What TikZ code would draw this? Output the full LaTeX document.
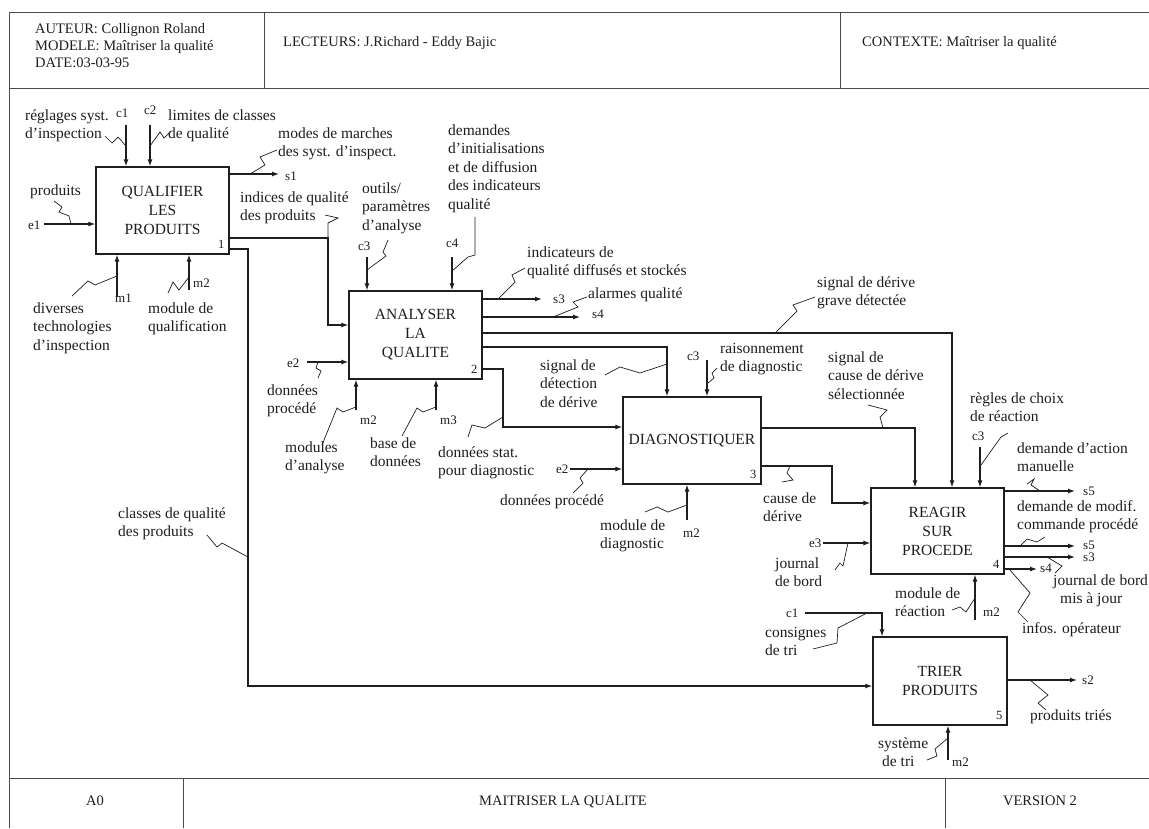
\documentclass[tikz,border=0pt]{standalone}
\usepackage{fontspec}
\setmainfont{Liberation Serif}
\usetikzlibrary{arrows.meta}
\definecolor{ink}{RGB}{30,30,30}
\begin{document}
\begin{tikzpicture}[x=1pt,y=-1pt,
  frm/.style={draw=ink!80, line width=0.9pt},
  ln/.style={draw=ink, line width=1.2pt},
  arr/.style={ln, -{Latex[length=7pt,width=5pt]}},
  sq/.style={draw=ink, line width=0.7pt},
  lbl/.style={font=\fontsize{15.5}{18.5}\selectfont, anchor=base west, align=left, inner sep=0pt, text=ink},
  two/.style={yshift=-18.5pt},
  three/.style={yshift=-37pt},
  five/.style={yshift=-74pt},
  hdr/.style={font=\fontsize{14.5}{17}\selectfont, anchor=base west, align=left, inner sep=0pt, text=ink},
  ftr/.style={font=\fontsize{14.5}{17}\selectfont, anchor=base, inner sep=0pt, text=ink},
  tag/.style={font=\fontsize{13}{15}\selectfont, anchor=base west, inner sep=0pt, text=ink},
  num/.style={font=\fontsize{12.5}{14}\selectfont, anchor=base east, inner sep=0pt, text=ink},
  box/.style={draw=ink, line width=1.2pt, fill=white, align=center, inner sep=0pt,
    font=\fontsize{15.5}{19}\selectfont, text=ink}]
\useasboundingbox (0,0) rectangle (1149,828);
\fill[white] (0,0) rectangle (1149,828);
% frame
\draw[frm] (9,12) -- (1149,12);
\draw[frm] (9,88) -- (1149,88);
\draw[frm] (9,12) -- (9,828);
\draw[frm] (264,12) -- (264,88);
\draw[frm] (840,12) -- (840,88);
\draw[frm] (9,778) -- (1149,778);
\draw[frm] (183,778) -- (183,828);
\draw[frm] (945,778) -- (945,828);
\node[hdr, yshift=-34pt] (hauteur) at (35,33) {AUTEUR: Collignon Roland\\MODELE: Maîtriser la qualité\\DATE:03-03-95};
\node[hdr] (hlect) at (283,46) {LECTEURS: J.Richard - Eddy Bajic};
\node[hdr] (hctx) at (862,46) {CONTEXTE: Maîtriser la qualité};
\node[ftr] (fa0) at (95,805) {A0};
\node[ftr] (ftit) at (563,805) {MAITRISER LA QUALITE};
\node[ftr] (fver) at (1040,805) {VERSION 2};
% boxes
\node[box, minimum width=133pt, minimum height=87pt] (b1) at (162.5,210.5) {QUALIFIER\\LES\\PRODUITS};
\node[box, minimum width=133pt, minimum height=88pt] (b2) at (415.5,335) {ANALYSER\\LA\\QUALITE};
\node[box, minimum width=138pt, minimum height=87pt] (b3) at (692,440.5) {DIAGNOSTIQUER};
\node[box, minimum width=133pt, minimum height=86pt] (b4) at (937.5,531) {REAGIR\\SUR\\PROCEDE};
\node[box, minimum width=134pt, minimum height=88pt] (b5) at (940,681) {TRIER\\PRODUITS};
\node[num] (n1) at ([xshift=-5pt,yshift=6pt]b1.south east) {1};
\node[num] (n2) at ([xshift=-5pt,yshift=6pt]b2.south east) {2};
\node[num] (n3) at ([xshift=-5pt,yshift=6pt]b3.south east) {3};
\node[num] (n4) at ([xshift=-5pt,yshift=6pt]b4.south east) {4};
\node[num] (n5) at ([xshift=-5pt,yshift=6pt]b5.south east) {5};
% ---- box 1 arrows
\coordinate (e1s) at (44,224);
\draw[arr] (e1s) -- (e1s -| b1.west);
\coordinate (c1s) at (126,125);
\draw[arr] (c1s) -- (c1s |- b1.north);
\coordinate (c2s) at (150,125);
\draw[arr] (c2s) -- (c2s |- b1.north);
\coordinate (s1e) at (279,174);
\draw[arr] (b1.east |- s1e) -- (s1e);
\coordinate (m1s) at (117,297);
\draw[arr] (m1s) -- (m1s |- b1.south);
\coordinate (m2s) at (189,290);
\draw[arr] (m2s) -- (m2s |- b1.south);
\draw[arr] (b1.east |- 0,238) -- (328,238) -- (328,325) -- (b2.west |- 0,325);
\draw[arr] (b1.east |- 0,249) -- (248,249) -- (248,686) -- (b5.west |- 0,686);
% ---- box 2 arrows
\coordinate (c3a) at (367,257);
\draw[arr] (c3a) -- (c3a |- b2.north);
\coordinate (c4a) at (452,257);
\draw[arr] (c4a) -- (c4a |- b2.north);
\coordinate (e2a) at (307,362);
\draw[arr] (e2a) -- (e2a -| b2.west);
\coordinate (m2a) at (356,410);
\draw[arr] (m2a) -- (m2a |- b2.south);
\coordinate (m3a) at (436,410);
\draw[arr] (m3a) -- (m3a |- b2.south);
\coordinate (s3a) at (542,299);
\draw[arr] (b2.east |- s3a) -- (s3a);
\coordinate (s4a) at (580,317);
\draw[arr] (b2.east |- s4a) -- (s4a);
\draw[arr] (b2.east |- 0,333) -- (952,333) -- (b4.north -| 952,0);
\draw[arr] (b2.east |- 0,347) -- (667,347) -- (b3.north -| 667,0);
\draw[arr] (b2.east |- 0,369) -- (503,369) -- (503,427) -- (b3.west |- 0,427);
% ---- box 3 arrows
\coordinate (c3b) at (707,360);
\draw[arr] (c3b) -- (c3b |- b3.north);
\coordinate (e2b) at (570,469);
\draw[arr] (e2b) -- (e2b -| b3.west);
\coordinate (m2b) at (687,520);
\draw[arr] (m2b) -- (m2b |- b3.south);
\draw[arr] (b3.east |- 0,428) -- (915,428) -- (b4.north -| 915,0);
\draw[arr] (b3.east |- 0,466) -- (832,466) -- (832,503) -- (b4.west |- 0,503);
% ---- box 4 arrows
\coordinate (c3c) at (980,447);
\draw[arr] (c3c) -- (c3c |- b4.north);
\coordinate (e3c) at (823,543);
\draw[arr] (e3c) -- (e3c -| b4.west);
\coordinate (m2c) at (975,620);
\draw[arr] (m2c) -- (m2c |- b4.south);
\coordinate (s5c) at (1075,491);
\draw[arr] (b4.east |- s5c) -- (s5c);
\coordinate (s5d) at (1075,546);
\draw[arr] (b4.east |- s5d) -- (s5d);
\coordinate (s3c) at (1075,557);
\draw[arr] (b4.east |- s3c) -- (s3c);
\coordinate (s4c) at (1037,569);
\draw[arr] (b4.east |- s4c) -- (s4c);
% ---- box 5 arrows
\coordinate (c1d) at (805,613);
\draw[arr] (c1d) -- (882,613) -- (b5.north -| 882,0);
\coordinate (s2d) at (1077,680);
\draw[arr] (b5.east |- s2d) -- (s2d);
\coordinate (m2d) at (948,760);
\draw[arr] (m2d) -- (m2d |- b5.south);
% ---- labels
\node[lbl, two] (lreg) at (25,120) {réglages syst.\\d'inspection};
\node[lbl, two] (llim) at (168,120) {limites de classes\\de qualité};
\node[lbl, two] (lmod) at (278,138) {modes de marches\\des syst. d'inspect.};
\node[lbl] (lprod) at (30,195) {produits};
\node[lbl, two] (lind) at (240,202) {indices de qualité\\des produits};
\node[lbl, three] (lout) at (362,193) {outils/\\paramètres\\d'analyse};
\node[lbl, five] (ldem) at (448,135) {demandes\\d'initialisations\\et de diffusion\\des indicateurs\\qualité};
\node[lbl, three] (ldiv) at (33,313) {diverses\\technologies\\d'inspection};
\node[lbl, two] (lmq) at (148,313) {module de\\qualification};
\node[lbl, two] (lic) at (527,257) {indicateurs de\\qualité diffusés et stockés};
\node[lbl] (lal) at (588,298) {alarmes qualité};
\node[lbl, two] (lsg) at (817,287) {signal de dérive\\grave détectée};
\node[lbl, two] (ldp) at (267,395) {données\\procédé};
\node[lbl, two] (lma) at (285,452) {modules\\d'analyse};
\node[lbl, two] (lbd) at (370,448) {base de\\données};
\node[lbl, three] (lsd) at (540,370) {signal de\\détection\\de dérive};
\node[lbl, two] (lds) at (438,457) {données stat.\\pour diagnostic};
\node[lbl, two] (lrd) at (720,353) {raisonnement\\de diagnostic};
\node[lbl, three] (lsc) at (828,362) {signal de\\cause de dérive\\sélectionnée};
\node[lbl] (ldp2) at (500,505) {données procédé};
\node[lbl, two] (lmd) at (600,530) {module de\\diagnostic};
\node[lbl, two] (lcd) at (763,503) {cause de\\dérive};
\node[lbl, two] (lrc) at (970,403) {règles de choix\\de réaction};
\node[lbl, two] (lda) at (1017,453) {demande d'action\\manuelle};
\node[lbl, two] (ldm) at (1017,511) {demande de modif.\\commande procédé};
\node[lbl, two] (ljb) at (775,568) {journal\\de bord};
\node[lbl, two] (lmr) at (895,598) {module de\\réaction};
\node[lbl, two] (ljm) at (1053,585) {journal de bord\\\hspace*{7pt}mis à jour};
\node[lbl] (lio) at (1022,633) {infos. opérateur};
\node[lbl, two] (lct) at (765,637) {consignes\\de tri};
\node[lbl] (lpt) at (1030,720) {produits triés};
\node[lbl, two] (lst) at (878,748) {système\\\hspace*{4pt}de tri};
\node[lbl, two] (lcq) at (118,518) {classes de qualité\\des produits};
% ---- tags
\node[tag] (tc1) at (116,117) {c1};
\node[tag] (tc2) at (144,114) {c2};
\node[tag] (te1) at (28,229) {e1};
\node[tag] (ts1) at (285,180) {s1};
\node[tag] (tm1) at (115,302) {m1};
\node[tag] (tm2) at (193,287) {m2};
\node[tag] (tc3) at (358,250) {c3};
\node[tag] (tc4) at (446,247) {c4};
\node[tag] (ts3) at (553,303) {s3};
\node[tag] (ts4) at (592,318) {s4};
\node[tag] (te2) at (287,367) {e2};
\node[tag] (tm2b) at (360,424) {m2};
\node[tag] (tm3) at (440,424) {m3};
\node[tag] (tc3b) at (687,360) {c3};
\node[tag] (te2b) at (556,473) {e2};
\node[tag] (tm2c) at (683,537) {m2};
\node[tag] (tc3c) at (972,440) {c3};
\node[tag] (ts5) at (1083,495) {s5};
\node[tag] (ts5b) at (1083,549) {s5};
\node[tag] (ts3b) at (1083,561) {s3};
\node[tag] (ts4b) at (1040,572) {s4};
\node[tag] (te3) at (809,547) {e3};
\node[tag] (tm2d) at (983,616) {m2};
\node[tag] (tc1b) at (786,617) {c1};
\node[tag] (ts2) at (1082,684) {s2};
\node[tag] (tm2e) at (952,766) {m2};
% ---- squiggles
\draw[sq] (54,201) -- (62,207) -- (59,212) -- (69,216) -- (71,224);
\draw[sq] (105,136) -- (112,143) -- (118,137) -- (126,146);
\draw[sq] (171,131) -- (164,138) -- (160,132) -- (150,146);
\draw[sq] (277,150) -- (260,157) -- (265,165) -- (250,174);
\draw[sq] (325,215) -- (338,218) -- (328,223) -- (328,237);
\draw[sq] (72,296) -- (88,281) -- (95,285) -- (117,276);
\draw[sq] (168,293) -- (173,282) -- (179,290) -- (189,277);
\draw[sq] (207,535) -- (217,547) -- (222,543) -- (248,557);
\draw[sq] (388,240) -- (383,252) -- (386,256) -- (367,270);
\draw[sq] (475,217) -- (475,255) -- (468,257) -- (452,271);
\draw[sq] (525,268) -- (512,275) -- (515,282) -- (498,299);
\draw[sq] (587,297) -- (573,302) -- (578,307) -- (553,317);
\draw[sq] (815,297) -- (793,305) -- (797,311) -- (775,333);
\draw[sq] (318,378) -- (321,371) -- (316,368) -- (318,362);
\draw[sq] (322,445) -- (337,408) -- (343,412) -- (356,407);
\draw[sq] (402,436) -- (417,408) -- (423,412) -- (436,407);
\draw[sq] (605,375) -- (620,367) -- (640,373) -- (667,364);
\draw[sq] (468,437) -- (472,425) -- (485,428) -- (503,417);
\draw[sq] (717,368) -- (712,373) -- (714,378) -- (708,383);
\draw[sq] (573,493) -- (583,483) -- (580,478) -- (588,469);
\draw[sq] (645,512) -- (657,507) -- (668,512) -- (687,505);
\draw[sq] (782,482) -- (793,480) -- (787,473) -- (790,466);
\draw[sq] (868,405) -- (887,410) -- (880,417) -- (883,428);
\draw[sq] (1008,433) -- (1001,437) -- (981,465);
\draw[sq] (1027,484) -- (1034,479) -- (1031,485) -- (1040,491);
\draw[sq] (1020,546) -- (1027,539) -- (1037,542) -- (1045,537);
\draw[sq] (1047,557) -- (1062,566) -- (1055,573);
\draw[sq] (1010,570) -- (1030,593) -- (1018,612) -- (1028,622);
\draw[sq] (835,570) -- (840,563) -- (843,566) -- (848,543);
\draw[sq] (952,610) -- (960,607) -- (966,612) -- (975,598);
\draw[sq] (813,649) -- (837,643) -- (838,628) -- (867,613);
\draw[sq] (1030,680) -- (1048,695) -- (1038,703) -- (1046,710);
\draw[sq] (927,760) -- (937,756) -- (935,749) -- (948,738);
\end{tikzpicture}
\end{document}
